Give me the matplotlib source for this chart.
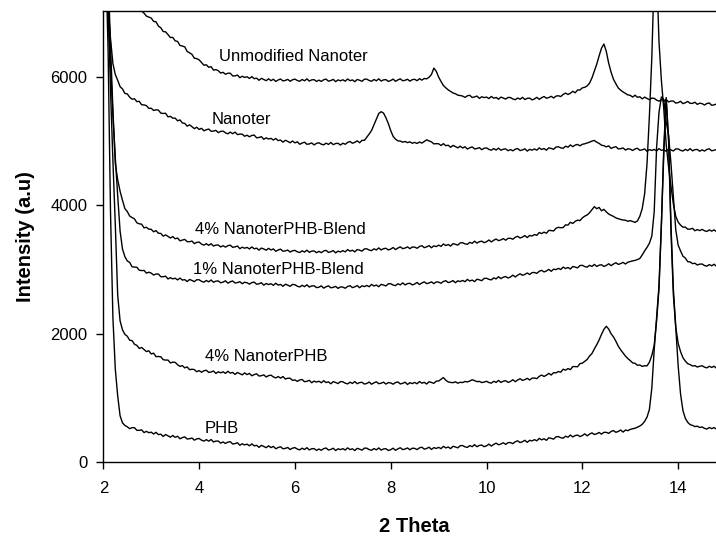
import numpy as np
import matplotlib
matplotlib.use("Agg")
import matplotlib.pyplot as plt

plt.rcParams['font.family'] = ['Liberation Sans', 'DejaVu Sans']

# 2 theta scan, 0.05 deg steps from 2.0 to 14.8
two_theta = np.linspace(2.0, 14.8, 257)

unmodified_nanoter = [
    8400, 8220, 8060, 7910, 7790, 7680, 7580, 7490, 7410, 7340,
    7270, 7210, 7160, 7120, 7090, 7055, 7030, 6995, 6950, 6935,
    6920, 6868, 6862, 6795, 6768, 6710, 6705, 6662, 6616, 6618,
    6564, 6556, 6492, 6484, 6470, 6400, 6378, 6354, 6294, 6288,
    6268, 6226, 6185, 6192, 6152, 6162, 6108, 6116, 6100, 6062,
    6074, 6044, 6060, 6060, 6018, 6018, 6031, 5990, 6013, 5994,
    6005, 5978, 6007, 5975, 5983, 5950, 5980, 5962, 5944, 5973,
    5944, 5966, 5932, 5954, 5970, 5940, 5948, 5964, 5934, 5958,
    5968, 5946, 5935, 5962, 5942, 5972, 5938, 5956, 5960, 5932,
    5952, 5932, 5958, 5968, 5936, 5946, 5964, 5928, 5956, 5942,
    5958, 5936, 5970, 5943, 5956, 5928, 5963, 5950, 5934, 5966,
    5968, 5946, 5935, 5962, 5942, 5972, 5938, 5956, 5960, 5932,
    5946, 5968, 5934, 5956, 5972, 5942, 5950, 5966, 5936, 5960,
    5965, 5943, 5975, 5952, 5978, 5972, 5998, 6040, 6140, 6090,
    6000, 5930, 5868, 5832, 5800, 5776, 5752, 5740, 5718, 5712,
    5704, 5683, 5708, 5716, 5682, 5690, 5704, 5667, 5693, 5680,
    5688, 5665, 5698, 5670, 5682, 5655, 5688, 5673, 5657, 5683,
    5680, 5658, 5647, 5674, 5654, 5684, 5650, 5668, 5672, 5644,
    5659, 5684, 5653, 5678, 5697, 5670, 5681, 5700, 5674, 5703,
    5709, 5696, 5730, 5750, 5728, 5748, 5778, 5755, 5798, 5799,
    5832, 5840, 5862, 5905, 5985, 6090, 6200, 6330, 6450, 6515,
    6400, 6215, 6075, 5965, 5895, 5830, 5795, 5768, 5745, 5722,
    5715, 5688, 5717, 5685, 5693, 5660, 5687, 5667, 5646, 5673,
    5668, 5641, 5625, 5648, 5624, 5650, 5612, 5626, 5626, 5594,
    5602, 5622, 5586, 5600, 5620, 5590, 5590, 5608, 5574, 5593,
    5586, 5564, 5588, 5596, 5560, 5566, 5581,
]

nanoter = [
    9800, 8500, 7100, 6600, 6210, 6040, 5950, 5850, 5815, 5745,
    5738, 5686, 5655, 5662, 5617, 5622, 5568, 5566, 5555, 5512,
    5514, 5479, 5490, 5485, 5438, 5433, 5436, 5380, 5388, 5359,
    5360, 5318, 5332, 5285, 5278, 5235, 5255, 5227, 5196, 5218,
    5184, 5201, 5162, 5179, 5190, 5155, 5158, 5169, 5134, 5153,
    5158, 5131, 5115, 5142, 5117, 5142, 5103, 5111, 5110, 5077,
    5094, 5069, 5090, 5095, 5053, 5058, 5071, 5030, 5053, 5034,
    5045, 5018, 5042, 5010, 5018, 4985, 5015, 4997, 4976, 5003,
    4974, 4991, 4952, 4972, 4985, 4952, 4958, 4974, 4942, 4966,
    4976, 4954, 4943, 4970, 4950, 4980, 4946, 4964, 4968, 4940,
    4969, 4952, 4982, 4996, 4968, 4983, 5006, 4976, 5013, 5014,
    5062, 5112, 5168, 5255, 5345, 5432, 5460, 5438, 5365, 5275,
    5165, 5075, 5032, 5006, 5002, 4985, 4996, 4978, 4990, 4968,
    4982, 4965, 4988, 4970, 4996, 5022, 5004, 4990, 4958, 4962,
    4960, 4933, 4962, 4930, 4938, 4905, 4935, 4917, 4896, 4923,
    4894, 4914, 4878, 4898, 4912, 4880, 4886, 4900, 4868, 4890,
    4896, 4872, 4860, 4886, 4862, 4893, 4859, 4876, 4880, 4852,
    4870, 4850, 4876, 4886, 4854, 4864, 4882, 4846, 4874, 4860,
    4880, 4860, 4896, 4871, 4886, 4860, 4897, 4887, 4874, 4909,
    4913, 4896, 4890, 4922, 4907, 4942, 4915, 4940, 4950, 4928,
    4952, 4960, 4972, 4985, 5002, 5012, 4985, 4966, 4938, 4930,
    4912, 4928, 4888, 4904, 4915, 4880, 4884, 4896, 4862, 4883,
    4876, 4855, 4880, 4890, 4858, 4866, 4880, 4842, 4870, 4856,
    4872, 4850, 4884, 4857, 4870, 4842, 4877, 4864, 4848, 4880,
    4880, 4858, 4847, 4874, 4854, 4884, 4850, 4868, 4872, 4844,
    4866, 4846, 4872, 4882, 4850, 4860, 4870,
]

blend_4 = [
    9900, 8700, 7600, 6500, 5500, 4650, 4400, 4220, 4080, 3950,
    3904, 3834, 3810, 3790, 3728, 3713, 3706, 3650, 3658, 3629,
    3627, 3588, 3607, 3565, 3563, 3520, 3540, 3517, 3491, 3513,
    3479, 3491, 3447, 3459, 3470, 3435, 3433, 3444, 3404, 3423,
    3428, 3396, 3380, 3402, 3377, 3402, 3366, 3381, 3382, 3352,
    3371, 3349, 3372, 3380, 3346, 3353, 3366, 3325, 3348, 3332,
    3345, 3321, 3352, 3323, 3333, 3302, 3335, 3320, 3301, 3330,
    3304, 3321, 3284, 3304, 3318, 3285, 3290, 3304, 3272, 3293,
    3298, 3276, 3265, 3292, 3272, 3302, 3268, 3286, 3290, 3262,
    3283, 3263, 3289, 3299, 3267, 3277, 3295, 3259, 3287, 3273,
    3295, 3275, 3311, 3286, 3301, 3275, 3312, 3301, 3287, 3321,
    3323, 3303, 3294, 3323, 3305, 3337, 3305, 3325, 3331, 3305,
    3319, 3343, 3311, 3335, 3353, 3325, 3335, 3353, 3325, 3351,
    3349, 3331, 3359, 3371, 3341, 3353, 3373, 3339, 3369, 3357,
    3380, 3361, 3398, 3374, 3390, 3365, 3403, 3393, 3380, 3415,
    3418, 3400, 3393, 3424, 3408, 3442, 3412, 3434, 3442, 3418,
    3434, 3460, 3430, 3456, 3476, 3450, 3462, 3482, 3457, 3486,
    3487, 3472, 3503, 3518, 3491, 3506, 3529, 3498, 3531, 3522,
    3545, 3533, 3577, 3560, 3583, 3565, 3610, 3607, 3601, 3643,
    3658, 3651, 3655, 3697, 3692, 3737, 3718, 3751, 3770, 3762,
    3805, 3832, 3850, 3885, 3932, 3980, 3948, 3968, 3915, 3938,
    3898, 3865, 3845, 3828, 3805, 3792, 3780, 3772, 3768, 3752,
    3762, 3748, 3735, 3758, 3830, 3950, 4180, 4650, 5400, 6300,
    7600, 7700, 6550, 5950, 5500, 4950, 4600, 4300, 4020, 3830,
    3740, 3692, 3660, 3662, 3628, 3630, 3642, 3604, 3623, 3606,
    3626, 3604, 3593, 3618, 3598, 3618, 3590,
]

blend_1 = [
    9500, 8100, 7000, 6200, 5400, 4750, 4150, 3600, 3320, 3200,
    3134, 3111, 3042, 3039, 3035, 2990, 2983, 2986, 2944, 2958,
    2944, 2914, 2930, 2930, 2888, 2888, 2896, 2853, 2873, 2854,
    2865, 2838, 2867, 2835, 2843, 2812, 2845, 2830, 2811, 2841,
    2840, 2816, 2803, 2829, 2808, 2837, 2802, 2819, 2822, 2793,
    2804, 2824, 2788, 2808, 2822, 2790, 2796, 2810, 2779, 2802,
    2794, 2772, 2796, 2804, 2770, 2778, 2794, 2756, 2782, 2766,
    2778, 2754, 2786, 2757, 2768, 2738, 2771, 2756, 2738, 2768,
    2763, 2740, 2728, 2754, 2733, 2762, 2727, 2744, 2747, 2718,
    2724, 2745, 2710, 2731, 2746, 2715, 2722, 2737, 2706, 2729,
    2726, 2708, 2736, 2748, 2718, 2730, 2750, 2716, 2746, 2734,
    2752, 2732, 2768, 2743, 2758, 2732, 2769, 2758, 2744, 2778,
    2778, 2758, 2749, 2778, 2760, 2792, 2760, 2780, 2786, 2760,
    2774, 2798, 2766, 2790, 2808, 2780, 2790, 2808, 2780, 2806,
    2804, 2786, 2814, 2826, 2796, 2808, 2828, 2794, 2824, 2812,
    2830, 2810, 2846, 2821, 2836, 2811, 2849, 2839, 2826, 2861,
    2864, 2846, 2839, 2870, 2854, 2888, 2858, 2881, 2890, 2867,
    2884, 2912, 2884, 2912, 2934, 2910, 2924, 2946, 2922, 2952,
    2954, 2940, 2972, 2988, 2962, 2978, 3002, 2972, 3006, 2998,
    3018, 3000, 3038, 3015, 3032, 3008, 3047, 3038, 3026, 3062,
    3066, 3046, 3037, 3066, 3048, 3080, 3048, 3068, 3074, 3048,
    3064, 3090, 3060, 3086, 3106, 3080, 3092, 3112, 3086, 3114,
    3124, 3135, 3142, 3155, 3172, 3228, 3290, 3345, 3410, 3520,
    3900, 4900, 5450, 5690, 5650, 5300, 5100, 4650, 4130, 3620,
    3380, 3290, 3208, 3178, 3122, 3118, 3092, 3098, 3070, 3084,
    3086, 3062, 3052, 3078, 3058, 3082, 3050,
]

nanoter_phb_4 = [
    9200, 8200, 7100, 5800, 4700, 3700, 2600, 2200, 2060, 1990,
    1960, 1898, 1892, 1835, 1818, 1770, 1785, 1752, 1721, 1733,
    1684, 1696, 1642, 1644, 1640, 1595, 1588, 1589, 1544, 1556,
    1553, 1516, 1490, 1502, 1467, 1482, 1438, 1446, 1440, 1407,
    1424, 1399, 1422, 1430, 1396, 1403, 1418, 1380, 1406, 1390,
    1405, 1381, 1414, 1385, 1396, 1365, 1395, 1377, 1358, 1388,
    1362, 1381, 1344, 1362, 1375, 1340, 1345, 1358, 1325, 1346,
    1353, 1326, 1310, 1332, 1307, 1332, 1293, 1306, 1305, 1272,
    1279, 1256, 1279, 1286, 1251, 1258, 1273, 1235, 1261, 1245,
    1259, 1235, 1267, 1238, 1249, 1219, 1253, 1239, 1222, 1253,
    1250, 1228, 1217, 1244, 1224, 1254, 1220, 1238, 1242, 1214,
    1224, 1246, 1212, 1234, 1250, 1220, 1228, 1244, 1214, 1238,
    1232, 1212, 1238, 1248, 1216, 1226, 1244, 1208, 1236, 1222,
    1240, 1219, 1254, 1228, 1242, 1215, 1251, 1240, 1226, 1260,
    1262, 1288, 1316, 1274, 1248, 1240, 1236, 1250, 1228, 1242,
    1238, 1255, 1248, 1262, 1282, 1268, 1252, 1256, 1238, 1246,
    1258, 1238, 1229, 1258, 1240, 1272, 1240, 1260, 1266, 1240,
    1256, 1282, 1252, 1278, 1298, 1272, 1284, 1304, 1278, 1306,
    1309, 1299, 1335, 1355, 1333, 1353, 1381, 1355, 1393, 1389,
    1410, 1400, 1446, 1431, 1456, 1440, 1487, 1487, 1484, 1533,
    1540, 1568, 1598, 1652, 1690, 1762, 1828, 1902, 1990, 2068,
    2115, 2072, 1998, 1950, 1882, 1805, 1748, 1698, 1650, 1612,
    1580, 1545, 1538, 1508, 1512, 1490, 1500, 1498, 1555, 1660,
    1820, 2200, 2700, 3700, 4900, 5680, 5000, 3600, 2600, 2100,
    1850, 1720, 1625, 1572, 1532, 1518, 1496, 1502, 1480, 1492,
    1500, 1478, 1467, 1492, 1474, 1492, 1462,
]

phb = [
    9000, 7900, 6400, 3900, 2250, 1450, 1030, 720, 610, 570,
    549, 519, 535, 535, 493, 493, 501, 458, 478, 456,
    465, 436, 462, 427, 433, 398, 427, 408, 386, 413,
    384, 401, 362, 380, 392, 358, 362, 374, 340, 360,
    366, 340, 325, 348, 324, 350, 312, 326, 326, 294,
    312, 288, 310, 316, 280, 286, 300, 260, 284, 266,
    278, 252, 282, 251, 260, 228, 259, 242, 223, 252,
    224, 243, 206, 225, 238, 206, 212, 226, 194, 216,
    224, 201, 189, 215, 194, 223, 188, 206, 209, 181,
    202, 182, 208, 218, 186, 196, 214, 178, 206, 192,
    208, 186, 220, 193, 206, 178, 213, 200, 184, 216,
    215, 193, 182, 209, 189, 219, 185, 203, 207, 179,
    192, 215, 182, 205, 222, 193, 202, 219, 190, 215,
    212, 193, 220, 231, 200, 211, 230, 195, 224, 211,
    228, 208, 244, 219, 234, 208, 245, 234, 220, 254,
    256, 236, 227, 256, 238, 270, 238, 258, 264, 238,
    252, 278, 248, 274, 294, 268, 280, 300, 274, 302,
    302, 286, 316, 330, 302, 316, 338, 306, 338, 328,
    348, 330, 368, 345, 362, 338, 377, 368, 356, 392,
    396, 378, 371, 402, 386, 420, 390, 412, 420, 396,
    412, 438, 408, 434, 454, 428, 440, 460, 434, 462,
    462, 446, 476, 490, 462, 476, 498, 466, 498, 488,
    508, 518, 526, 542, 560, 588, 632, 700, 820, 1150,
    1750, 2250, 2750, 3700, 4800, 5650, 5050, 3700, 2700, 2100,
    1500, 1060, 800, 680, 618, 582, 570, 552, 558, 538,
    546, 524, 513, 538, 520, 536, 512,
]

series = [unmodified_nanoter, nanoter, blend_4, blend_1, nanoter_phb_4, phb]

# curve labels: text, 2theta, intensity (baseline)
labels = [
    ("Unmodified Nanoter", 4.42, 6256),
    ("Nanoter", 4.26, 5269),
    ("4% NanoterPHB-Blend", 3.91, 3554),
    ("1% NanoterPHB-Blend", 3.87, 2931),
    ("4% NanoterPHB", 4.12, 1579),
    ("PHB", 4.12, 457),
]

x_ticks = [2, 4, 6, 8, 10, 12, 14]
y_ticks = [0, 2000, 4000, 6000]


def plot():
    fig = plt.figure(figsize=(7.16, 5.36), dpi=100)
    ax = fig.add_axes([0.1443, 0.1381, 0.8557, 0.8414])

    for y in series:
        ax.plot(two_theta, y, color="black", linewidth=1.0)

    for text, x, y in labels:
        ax.text(x, y, text, fontsize=12, ha="left", va="baseline")

    ax.set_xlim(2, 14.79)
    ax.set_ylim(0, 7030)
    ax.set_xticks(x_ticks)
    ax.set_yticks(y_ticks)
    ax.tick_params(axis="both", direction="out", length=5, width=1, labelsize=12)
    ax.tick_params(axis="x", pad=8.5)
    ax.tick_params(axis="y", pad=6.5)

    ax.spines["right"].set_visible(False)
    for s in ["left", "bottom", "top"]:
        ax.spines[s].set_linewidth(1.0)

    ax.set_xlabel("2 Theta", fontsize=14.5, fontweight="bold")
    ax.set_ylabel("Intensity (a.u)", fontsize=14.5, fontweight="bold")
    ax.xaxis.set_label_coords(0.508, -0.122)
    ax.yaxis.set_label_coords(-0.111, 0.5)

    fig.savefig("out.png", dpi=100)


if __name__ == "__main__":
    plot()
